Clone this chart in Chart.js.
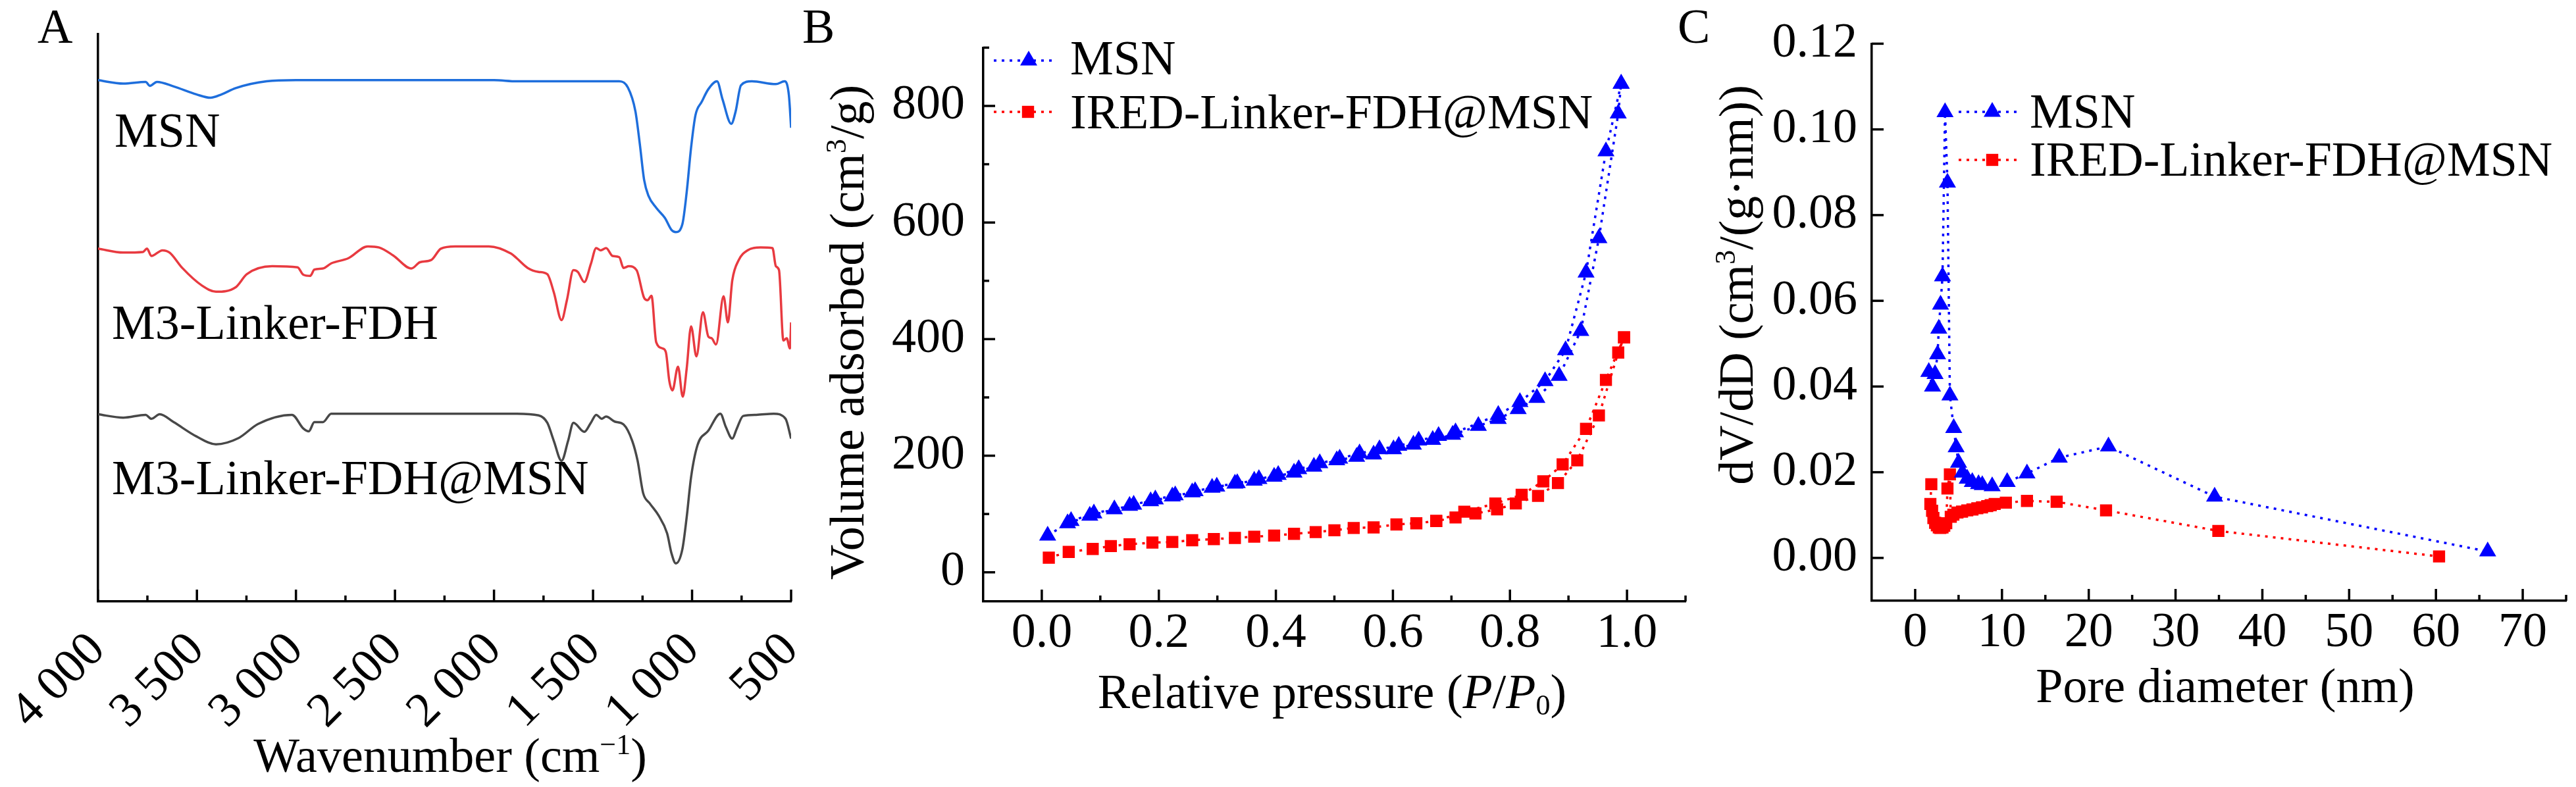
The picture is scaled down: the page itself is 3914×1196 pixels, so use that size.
<!DOCTYPE html>
<html>
<head>
<meta charset="utf-8">
<script src="https://cdn.jsdelivr.net/npm/chart.js@4.4.1/dist/chart.umd.min.js"></script>
<style>
  body { margin: 0; background: #fff; width: 3914px; height: 1196px; overflow: hidden; position: relative; }
  canvas { position: absolute; left: 0; top: 0; }
</style>
</head>
<body>
<canvas id="chart-ftir" width="3914" height="1196"></canvas>
<canvas id="chart-iso" width="3914" height="1196"></canvas>
<canvas id="chart-pore" width="3914" height="1196"></canvas>
<script>
// ---- panel A: FTIR spectra (offset, arbitrary units 0-100) ----
let msnWn = [4000,3872,3759,3737,3702,3617,3503,3432,3375,3304,3148,3000,2500,2000,1885,1368,1324,1286,1264,1242,1220,1181,1137,1104,1082,1049,1027,1005,983,951,918,874,846,802,780,753,698,577,533,511,500]
let msnT  = [91.9,91.3,91.6,90.9,91.6,90.8,89.4,88.8,89.4,90.5,91.7,91.9,91.9,91.9,91.7,91.7,90.6,86.4,80.7,74.3,71.5,69.4,67.6,65.5,65.1,66.5,72.2,80.0,85.7,88.1,90.3,91.7,88.5,84.2,86.4,91.0,91.7,91.2,91.7,89.2,83.5]

let linkerWn = [4000,3872,3773,3752,3730,3674,3638,3574,3475,3404,3304,3248,3120,2992,2963,2928,2907,2864,2822,2736,2637,2580,2509,2417,2374,2317,2268,2197,2026,1913,1885,1830,1775,1731,1698,1659,1632,1599,1577,1544,1511,1484,1462,1434,1401,1368,1346,1319,1280,1242,1225,1205,1181,1148,1132,1115,1099,1071,1047,1027,1005,978,945,918,901,879,841,819,797,764,720,654,594,577,561,539,522,506,500]
let linkerT  = [62.2,61.5,61.6,62.2,60.9,61.9,61.5,58.8,55.7,54.6,55.4,57.7,59.1,58.9,57.6,57.4,58.5,58.7,59.6,60.5,62.6,62.4,61.0,58.7,59.8,60.2,62.2,62.6,62.6,61.3,60.5,58.8,58.1,57.7,54.5,49.6,53.1,58.4,58.1,56.3,59.5,62.3,61.9,62.3,60.9,60.7,58.8,59.1,58.4,53.5,53.1,53.9,45.7,44.6,43.9,38.9,37.2,41.4,36.1,41.1,48.5,43.2,51.0,46.7,46.4,45.3,53.8,49.2,56.6,60.2,61.9,62.4,62.3,59.1,58.4,46.0,46.4,44.6,49.2]

let compWn = [4000,3872,3759,3730,3688,3617,3503,3404,3290,3191,3020,2963,2935,2907,2864,2822,2500,2000,1885,1775,1731,1698,1659,1626,1599,1544,1511,1484,1456,1434,1390,1346,1302,1275,1247,1214,1170,1126,1104,1082,1049,1027,1005,972,918,857,830,797,775,742,676,588,528,500]
let compT  = [33.0,32.4,32.9,32.2,33.0,31.6,29.1,27.7,28.8,31.3,32.9,30.5,30.0,31.6,31.6,33.1,33.1,33.1,33.1,32.8,31.5,28.3,24.8,28.3,31.5,29.9,31.5,32.9,32.2,32.6,31.7,31.2,28.3,24.8,19.1,17.3,15.2,12.0,8.5,6.7,9.2,14.9,21.9,27.6,30.1,33.1,30.8,28.7,30.4,32.7,32.9,33.1,32.2,28.7]

let ftirTicks = [4000,3500,3000,2500,2000,1500,1000,500]
let ftirTickLabels = ['4 000','3 500','3 000','2 500','2 000','1 500','1 000','500']
let ftirMinor = [3750,3250,2750,2250,1750,1250,750]

// ---- panel B: N2 isotherms ----
let msnAdsP = [0.010,0.044,0.082,0.124,0.150,0.186,0.223,0.257,0.291,0.330,0.363,0.397,0.431,0.465,0.504,0.538,0.567,0.601,0.635,0.668,0.702,0.746,0.780,0.814,0.846,0.884,0.921,0.952,0.985,0.990]
let msnAdsV = [63,84,97,108,114,122,130,137,145,152,157,164,171,181,192,198,202,211,219,227,236,251,263,280,299,337,414,573,787,838]
let msnDesP = [0.990,0.964,0.930,0.895,0.860,0.817,0.780,0.707,0.678,0.644,0.610,0.577,0.543,0.509,0.475,0.439,0.404,0.371,0.334,0.299,0.262,0.228,0.194,0.157,0.089,0.050]
let msnDesV = [838,722,514,381,328,292,270,240,234,226,217,211,204,195,187,177,167,160,153,147,139,132,125,116,101,88]

let iredAdsP = [0.012,0.046,0.087,0.118,0.150,0.189,0.223,0.257,0.294,0.330,0.363,0.397,0.431,0.468,0.500,0.533,0.567,0.606,0.640,0.674,0.707,0.741,0.778,0.810,0.848,0.882,0.915,0.952,0.985,0.995]
let iredAdsV = [25,35,40,45,48,51,52,55,57,59,61,63,66,69,72,76,77,82,84,88,94,101,108,118,131,153,192,269,377,403]
let iredDesP = [0.995,0.964,0.930,0.890,0.857,0.820,0.775,0.722,0.674]
let iredDesV = [403,330,246,185,156,133,118,104,88]

let isoTicksX = [0,0.2,0.4,0.6,0.8,1.0]
let isoTickLabelsX = ['0.0','0.2','0.4','0.6','0.8','1.0']
let isoMinorX = [0.1,0.3,0.5,0.7,0.9,1.1]
let isoTicksY = [0,200,400,600,800]
let isoTickLabelsY = ['0','200','400','600','800']
let isoMinorY = [100,300,500,700,900]

// ---- panel C: pore size distribution ----
let poreMsnD = [1.57,2.0,2.29,2.58,2.72,2.92,3.15,3.44,3.72,4.0,4.44,4.72,5.0,5.44,6.0,6.58,7.3,7.73,8.87,10.6,12.88,16.6,22.27,34.5,65.96]
let poreMsnV = [0.0434,0.0400,0.0429,0.0475,0.0535,0.0591,0.0657,0.1040,0.0876,0.0379,0.0303,0.0258,0.0222,0.0199,0.0185,0.0177,0.0172,0.0170,0.0167,0.0177,0.0197,0.0234,0.0260,0.0143,0.0015]

let poreIredD = [1.86,1.75,1.95,2.1,2.3,2.5,2.72,2.9,3.15,3.35,3.58,3.72,4.0,4.1,4.4,4.87,5.4,6.0,6.6,7.16,7.7,8.3,8.7,9.16,10.45,12.88,16.3,21.99,34.93,60.36]
let poreIredV = [0.0172,0.0126,0.0110,0.0093,0.0082,0.0076,0.0071,0.0070,0.0071,0.0075,0.0081,0.0162,0.0195,0.0096,0.0101,0.0106,0.0108,0.0111,0.0113,0.0116,0.0118,0.0121,0.0123,0.0126,0.0129,0.0133,0.0131,0.0111,0.0063,0.00035]

let poreTicksX = [0,10,20,30,40,50,60,70]
let poreTickLabelsX = ['0','10','20','30','40','50','60','70']
let poreMinorX = [5,15,25,35,45,55,65,75]
let poreTicksY = [0,0.02,0.04,0.06,0.08,0.10,0.12]
let poreTickLabelsY = ['0.00','0.02','0.04','0.06','0.08','0.10','0.12']

// ---- shared styling ----
const W = 3914, H = 1196
const FONT = "'Liberation Serif', 'Times New Roman', serif"
const FS = 74
const AXW = 3.5
const blueA = 'rgb(30, 110, 220)', redA = 'rgb(232, 58, 64)', grayA = 'rgb(72, 72, 72)'
const blue = '#0000ff', red = '#ff0000'
const DOTS = [4, 8]
const XBAND = 260   // room under the x axis kept for tick labels
const YBAND = 300   // room left of the y axis kept for tick labels

function pts(xs, ys) {
  return xs.map((x, i) => ({ x: x, y: ys[i] }))
}

function fontFor(kind) {
  if (kind === 'i') return 'italic ' + FS + 'px ' + FONT
  if (kind === 'sup' || kind === 'sub') return Math.round(FS * 0.6) + 'px ' + FONT
  return FS + 'px ' + FONT
}

// text made of pieces: normal / italic / superscript / subscript, centred on x
function richText(ctx, parts, x, y, rot) {
  ctx.save()
  ctx.translate(x, y)
  ctx.rotate(rot || 0)
  ctx.fillStyle = '#000'
  ctx.textAlign = 'left'
  ctx.textBaseline = 'alphabetic'
  let widths = parts.map(p => { ctx.font = fontFor(p[1]); return ctx.measureText(p[0]).width })
  let cx = -widths.reduce((a, b) => a + b, 0) / 2
  parts.forEach((p, i) => {
    ctx.font = fontFor(p[1])
    let dy = p[1] === 'sup' ? -FS * 0.36 : (p[1] === 'sub' ? FS * 0.14 : 0)
    ctx.fillText(p[0], cx, dy)
    cx += widths[i]
  })
  ctx.restore()
}

function plainText(ctx, text, x, y) {
  ctx.save()
  ctx.fillStyle = '#000'
  ctx.font = FS + 'px ' + FONT
  ctx.textAlign = 'left'
  ctx.textBaseline = 'alphabetic'
  ctx.fillText(text, x, y)
  ctx.restore()
}

function marker(ctx, style, r, x, y) {
  ctx.beginPath()
  if (style === 'triangle') {
    for (let k = 0; k < 3; k++) {
      let a = k * 2 * Math.PI / 3
      let px = x + Math.sin(a) * r, py = y - Math.cos(a) * r
      if (k === 0) ctx.moveTo(px, py); else ctx.lineTo(px, py)
    }
    ctx.closePath()
  } else {
    let s = r * Math.SQRT1_2
    ctx.rect(x - s, y - s, 2 * s, 2 * s)
  }
  ctx.fill()
}

function legendRow(ctx, it) {
  ctx.save()
  ctx.strokeStyle = it.color
  ctx.lineWidth = AXW
  ctx.setLineDash(DOTS)
  ctx.beginPath()
  ctx.moveTo(it.x0, it.y)
  ctx.lineTo(it.x1, it.y)
  ctx.stroke()
  ctx.setLineDash([])
  ctx.fillStyle = it.color
  marker(ctx, it.style, it.r, it.xm, it.y)
  ctx.restore()
  plainText(ctx, it.text, it.xt, it.yt)
}

// inward tick marks, positioned through the chart's own scales
function inwardTicks(chart, specs) {
  const ctx = chart.ctx, area = chart.chartArea
  ctx.save()
  ctx.strokeStyle = '#000'
  ctx.lineWidth = AXW
  specs.forEach(s => {
    const sc = chart.scales[s.axis]
    s.values.forEach(v => {
      const p = sc.getPixelForValue(v)
      ctx.beginPath()
      if (s.axis === 'x') { ctx.moveTo(p, area.bottom); ctx.lineTo(p, area.bottom - s.len) }
      else { ctx.moveTo(area.left, p); ctx.lineTo(area.left + s.len, p) }
      ctx.stroke()
    })
  })
  ctx.restore()
}

function tickFont() {
  return { family: FONT, size: FS }
}

// chart area edges in page pixels -> layout padding (axes get fixed bands)
function baseOptions(left, right, top, bottom) {
  return {
    responsive: false,
    animation: false,
    devicePixelRatio: 1,
    layout: { padding: { left: left - YBAND, right: W - right, top: top, bottom: H - bottom - XBAND } },
    plugins: { legend: { display: false }, tooltip: { enabled: false } },
    events: []
  }
}

// ---------------- Chart A ----------------
let ftirOptions = baseOptions(133, 1202, 52, 914)
ftirOptions.layout.padding.left = 0
ftirOptions.elements = { point: { radius: 0 }, line: { borderWidth: 3.5, cubicInterpolationMode: 'monotone' } }
ftirOptions.scales = {
  x: {
    type: 'linear', reverse: true, min: 500, max: 4000,
    afterFit: s => { s.height = XBAND },
    afterBuildTicks: s => { s.ticks = ftirTicks.map(v => ({ value: v })) },
    grid: { display: false, drawTicks: false },
    border: { display: true, color: '#000', width: AXW },
    ticks: { font: tickFont(), color: '#000', autoSkip: false, minRotation: 45, maxRotation: 45, padding: 31,
             callback: (v, i) => ftirTickLabels[i] }
  },
  y: {
    type: 'linear', min: 0, max: 100,
    afterFit: s => { s.width = 133 },
    grid: { display: false, drawTicks: false },
    border: { display: true, color: '#000', width: AXW },
    ticks: { display: false }
  }
}

let ftirChart = new Chart(document.getElementById('chart-ftir'), {
  type: 'line',
  data: {
    datasets: [
      { label: 'MSN', data: pts(msnWn, msnT), borderColor: blueA },
      { label: 'M3-Linker-FDH', data: pts(linkerWn, linkerT), borderColor: redA },
      { label: 'M3-Linker-FDH@MSN', data: pts(compWn, compT), borderColor: grayA }
    ]
  },
  options: ftirOptions,
  plugins: [{
    id: 'ftirDeco',
    afterDraw: chart => {
      const ctx = chart.ctx
      inwardTicks(chart, [
        { axis: 'x', values: ftirTicks, len: 18 },
        { axis: 'x', values: ftirMinor, len: 9 }
      ])
      plainText(ctx, 'A', 57, 65)
      plainText(ctx, 'MSN', 174, 223)
      plainText(ctx, 'M3-Linker-FDH', 170, 515)
      plainText(ctx, 'M3-Linker-FDH@MSN', 170, 751)
      richText(ctx, [['Wavenumber (cm', 'n'], ['\u22121', 'sup'], [')', 'n']], 684, 1173, 0)
    }
  }]
})

// ---------------- Chart B ----------------
let isoOptions = baseOptions(1494, 2561, 53, 914)
isoOptions.elements = { line: { borderWidth: 3.5, borderDash: DOTS, tension: 0 }, point: { borderWidth: 0 } }
isoOptions.scales = {
  x: {
    type: 'linear', min: -0.1, max: 1.1,
    afterFit: s => { s.height = XBAND },
    afterBuildTicks: s => { s.ticks = isoTicksX.map(v => ({ value: v })) },
    grid: { display: false, drawTicks: false },
    border: { display: true, color: '#000', width: AXW },
    ticks: { font: tickFont(), color: '#000', autoSkip: false, maxRotation: 0, padding: 5,
             callback: (v, i) => isoTickLabelsX[i] }
  },
  y: {
    type: 'linear', min: -50, max: 900,
    afterFit: s => { s.width = YBAND },
    afterBuildTicks: s => { s.ticks = isoTicksY.map(v => ({ value: v })) },
    grid: { display: false, drawTicks: false },
    border: { display: true, color: '#000', width: AXW },
    ticks: { font: tickFont(), color: '#000', autoSkip: false, padding: 28,
             callback: (v, i) => isoTickLabelsY[i] }
  }
}

function isoSet(label, xs, ys, color, style, r) {
  return { label: label, data: pts(xs, ys), borderColor: color, backgroundColor: color,
           pointBackgroundColor: color, pointStyle: style, pointRadius: r, pointBorderWidth: 0 }
}

let isoChart = new Chart(document.getElementById('chart-iso'), {
  type: 'line',
  data: {
    datasets: [
      isoSet('MSN', msnAdsP, msnAdsV, blue, 'triangle', 15),
      isoSet('MSN desorption', msnDesP, msnDesV, blue, 'triangle', 15),
      isoSet('IRED-Linker-FDH@MSN', iredAdsP, iredAdsV, red, 'rect', 13),
      isoSet('IRED-Linker-FDH@MSN desorption', iredDesP, iredDesV, red, 'rect', 13)
    ]
  },
  options: isoOptions,
  plugins: [{
    id: 'isoDeco',
    afterDraw: chart => {
      const ctx = chart.ctx
      inwardTicks(chart, [
        { axis: 'x', values: isoTicksX, len: 18 },
        { axis: 'x', values: isoMinorX, len: 9 },
        { axis: 'y', values: isoTicksY, len: 18 },
        { axis: 'y', values: isoMinorY, len: 9 }
      ])
      plainText(ctx, 'B', 1219, 65)
      legendRow(ctx, { color: blue, style: 'triangle', r: 15, x0: 1510, x1: 1605, xm: 1563, y: 92, text: 'MSN', xt: 1626, yt: 113 })
      legendRow(ctx, { color: red, style: 'rect', r: 13, x0: 1510, x1: 1605, xm: 1562, y: 170, text: 'IRED-Linker-FDH@MSN', xt: 1626, yt: 195 })
      richText(ctx, [['Relative pressure (', 'n'], ['P', 'i'], ['/', 'n'], ['P', 'i'], ['0', 'sub'], [')', 'n']], 2024, 1076, 0)
      richText(ctx, [['Volume adsorbed (cm', 'n'], ['3', 'sup'], ['/g)', 'n']], 1312, 505, -Math.PI / 2)
    }
  }]
})

// ---------------- Chart C ----------------
let poreOptions = baseOptions(2844, 3912, 53, 913)
poreOptions.elements = { line: { borderWidth: 3.5, borderDash: DOTS, tension: 0 }, point: { borderWidth: 0 } }
poreOptions.scales = {
  x: {
    type: 'linear', min: -5, max: 75,
    afterFit: s => { s.height = XBAND },
    afterBuildTicks: s => { s.ticks = poreTicksX.map(v => ({ value: v })) },
    grid: { display: false, drawTicks: false },
    border: { display: true, color: '#000', width: AXW },
    ticks: { font: tickFont(), color: '#000', autoSkip: false, maxRotation: 0, padding: 5,
             callback: (v, i) => poreTickLabelsX[i] }
  },
  y: {
    type: 'linear', min: -0.01, max: 0.12,
    afterFit: s => { s.width = YBAND },
    afterBuildTicks: s => { s.ticks = poreTicksY.map(v => ({ value: v })) },
    grid: { display: false, drawTicks: false },
    border: { display: true, color: '#000', width: AXW },
    ticks: { font: tickFont(), color: '#000', autoSkip: false, padding: 22,
             callback: (v, i) => poreTickLabelsY[i] }
  }
}

let poreChart = new Chart(document.getElementById('chart-pore'), {
  type: 'line',
  data: {
    datasets: [
      isoSet('MSN', poreMsnD, poreMsnV, blue, 'triangle', 15),
      isoSet('IRED-Linker-FDH@MSN', poreIredD, poreIredV, red, 'rect', 13)
    ]
  },
  options: poreOptions,
  plugins: [{
    id: 'poreDeco',
    afterDraw: chart => {
      const ctx = chart.ctx
      inwardTicks(chart, [
        { axis: 'x', values: poreTicksX, len: 18 },
        { axis: 'x', values: poreMinorX, len: 9 },
        { axis: 'y', values: poreTicksY, len: 18 }
      ])
      plainText(ctx, 'C', 2549, 65)
      legendRow(ctx, { color: blue, style: 'triangle', r: 15, x0: 2976, x1: 3072, xm: 3027, y: 170, text: 'MSN', xt: 3084, yt: 194 })
      legendRow(ctx, { color: red, style: 'rect', r: 13, x0: 2976, x1: 3072, xm: 3027, y: 243, text: 'IRED-Linker-FDH@MSN', xt: 3084, yt: 267 })
      richText(ctx, [['Pore diameter (nm)', 'n']], 3381, 1067, 0)
      richText(ctx, [['dV/dD (cm', 'n'], ['3', 'sup'], ['/(g\u00b7nm))', 'n']], 2663, 433, -Math.PI / 2)
    }
  }]
})
</script>
</body>
</html>
